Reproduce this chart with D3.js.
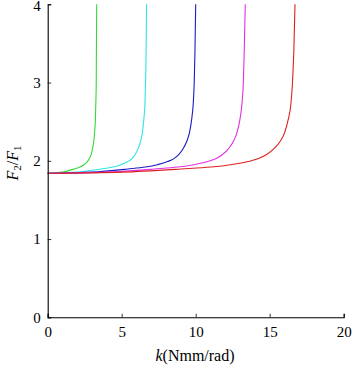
<!DOCTYPE html>
<html><head><meta charset="utf-8">
<script src="https://cdn.jsdelivr.net/npm/d3@7"></script>
<style>
html,body{margin:0;padding:0;background:#fff;}
text{font-family:"Liberation Serif","DejaVu Serif",serif;}
</style></head>
<body><svg id="c" width="352" height="366"></svg>
<script>
// Tick values
const xTicks = [0, 5, 10, 15, 20];
const yTicks = [0, 1, 2, 3, 4];
// Read F2/F1 values shared by all curves' sample points
const ratio = [1.84, 1.855, 1.895, 1.92, 1.95, 1.99, 2.025, 2.08, 2.155, 2.25, 2.36, 2.52, 2.72, 3.0, 3.4, 4.0];
// k values (Nmm/rad) for each series
const kGreen   = [0, 0.99, 1.79, 2.18, 2.45, 2.68, 2.81, 2.93, 3.03, 3.11, 3.17, 3.22, 3.25, 3.28, 3.29, 3.31];
const kCyan    = [0, 2.00, 3.61, 4.41, 4.94, 5.41, 5.68, 5.91, 6.11, 6.28, 6.40, 6.49, 6.57, 6.61, 6.65, 6.68];
const kBlue    = [0, 3.0, 5.4, 6.6, 7.4, 8.1, 8.5, 8.85, 9.15, 9.4, 9.58, 9.72, 9.83, 9.9, 9.95, 10.0];
const kMagenta = [0, 4.0, 7.21, 8.81, 9.88, 10.81, 11.35, 11.81, 12.22, 12.55, 12.79, 12.98, 13.12, 13.22, 13.28, 13.35];
const kRed     = [0, 5.01, 9.02, 11.03, 12.37, 13.54, 14.20, 14.79, 15.29, 15.71, 16.01, 16.24, 16.43, 16.54, 16.63, 16.71];
const seriesNames = ["green", "cyan", "blue", "magenta", "red"];
const seriesK = [kGreen, kCyan, kBlue, kMagenta, kRed];
const colors = ["#38d838", "#2ee6e6", "#1c1cc4", "#e030e0", "#dc2020"];

const svg = d3.select("#c");
const L = 47.7, R = 343.7, T = 4.3, B = 317.3;
const x = d3.scaleLinear().domain([0, 20]).range([L, R]);
const y = d3.scaleLinear().domain([0, 4]).range([B, T]);

const line = d3.line().x(d => x(d[0])).y(d => y(d[1])).curve(d3.curveMonotoneX);
seriesK.forEach((ks, i) => {
  const pts = ks.map((k, j) => [k, ratio[j]]);
  svg.append("path").attr("d", line(pts)).attr("fill", "none")
    .attr("stroke", colors[i]).attr("stroke-width", 1.1);
});

const xAxis = svg.append("g").attr("transform", `translate(0,${B})`)
  .call(d3.axisBottom(x).tickValues(xTicks).tickSize(-3.5).tickPadding(8).tickFormat(d3.format("d")));
const yAxis = svg.append("g").attr("transform", `translate(${L},0)`)
  .call(d3.axisLeft(y).tickValues(yTicks).tickSize(-3.5).tickPadding(8).tickFormat(d3.format("d")));
[xAxis, yAxis].forEach(g => {
  g.select(".domain").attr("stroke", "#000").attr("stroke-width", 1.1);
  g.selectAll(".tick line").attr("stroke", "#000").attr("stroke-width", 0.8);
  g.selectAll(".tick text").attr("font-size", 15).attr("fill", "#000")
    .attr("font-family", "'Liberation Serif','DejaVu Serif',serif");
});
xAxis.selectAll(".tick text").attr("dy", "0.71em").attr("y", 9);
yAxis.selectAll(".tick text").attr("x", -7)
  .attr("dy", d => d === 4 ? "0.42em" : "0.32em");

// X label
const xl = svg.append("text").attr("x", 195).attr("y", 361).attr("text-anchor", "middle")
  .attr("font-size", 16).attr("fill", "#000");
xl.append("tspan").attr("font-style", "italic").text("k");
xl.append("tspan").text("(Nmm/rad)");

// Y label
const yl = svg.append("text").attr("transform", "translate(18,163) rotate(-90)")
  .attr("text-anchor", "middle").attr("font-size", 16).attr("fill", "#000");
yl.append("tspan").attr("font-style", "italic").text("F");
yl.append("tspan").attr("font-size", 11).attr("dy", 3).text("2");
yl.append("tspan").attr("dy", -3).text("/");
yl.append("tspan").attr("font-style", "italic").text("F");
yl.append("tspan").attr("font-size", 11).attr("dy", 3).text("1");
</script>
</body></html>
